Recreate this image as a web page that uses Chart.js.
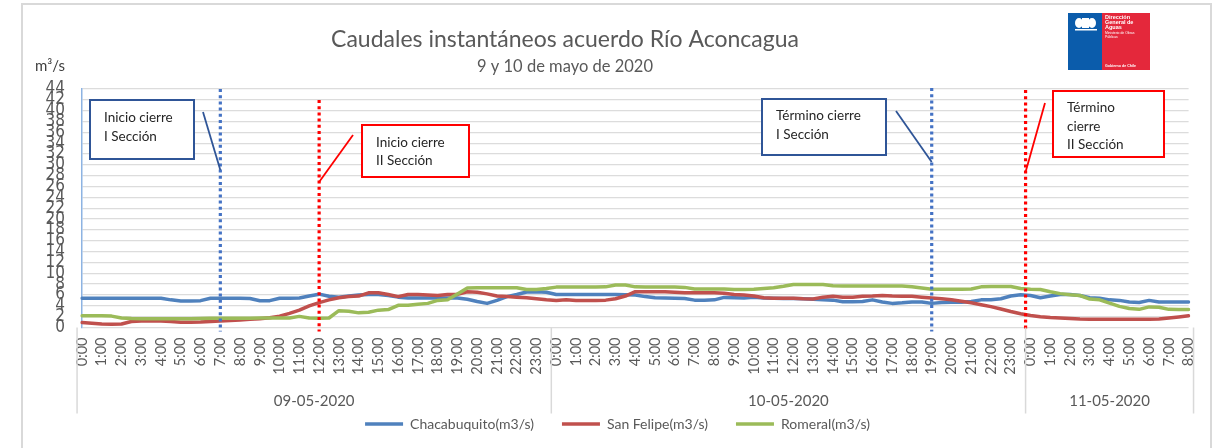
<!DOCTYPE html>
<html>
<head>
<meta charset="utf-8">
<script src="https://cdn.jsdelivr.net/npm/chart.js@4"></script>
<style>
  html, body { margin: 0; padding: 0; background: #fff; }
  #grafico { display: block; }
</style>
</head>
<body>
<canvas id="grafico" width="1216" height="448"></canvas>
<script>
const dias = ['09-05-2020', '10-05-2020', '11-05-2020']

// una categoria cada 30 minutos, del 09-05 0:00 al 11-05 8:00
const categorias = []
dias.forEach((dia, d) => {
  const ultimaHora = d === 2 ? 8 : 23
  for (let h = 0; h <= ultimaHora; h++) {
    categorias.push(h + ':00')
    if (!(d === 2 && h === 8)) categorias.push(h + ':30')
  }
})

const chacabuquito = [
  5.4, 5.4, 5.4, 5.4, 5.4, 5.4, 5.4, 5.4, 5.4, 5.1, 4.9, 4.9, 4.95, 5.4, 5.4, 5.4, 5.4, 5.35, 4.95, 4.95,
  5.4, 5.4, 5.45, 5.8, 6.15, 5.75, 5.6, 5.8, 6.0, 6.1, 6.1, 5.9, 5.6, 5.45, 5.45, 5.45, 5.45, 5.45, 5.45, 5.2,
  4.8, 4.45, 5.0, 5.7, 6.1, 6.55, 6.6, 6.5,
  6.1, 6.1, 6.1, 6.1, 6.1, 6.1, 6.1, 6.05, 6.0, 5.7, 5.5, 5.45, 5.4, 5.35, 5.05, 5.05, 5.1, 5.55, 5.5, 5.45,
  5.6, 5.45, 5.4, 5.35, 5.35, 5.3, 5.2, 5.1, 5.05, 4.75, 4.75, 4.8, 5.1, 4.7, 4.45, 4.55, 4.7, 4.7, 4.45, 4.6,
  4.65, 4.65, 4.8, 5.1, 5.1, 5.3, 5.8, 6.05,
  5.9, 5.5, 5.8, 6.1, 6.1, 5.9, 5.5, 5.4, 5.1, 5.0, 4.7, 4.6, 5.0, 4.7, 4.7, 4.7, 4.7
]

const sanFelipe = [
  0.9, 0.8, 0.65, 0.6, 0.65, 1.1, 1.2, 1.2, 1.2, 1.1, 0.95, 0.95, 1.0, 1.1, 1.2, 1.3, 1.4, 1.5, 1.6, 1.8,
  2.1, 2.6, 3.2, 4.0, 4.6, 5.1, 5.5, 5.7, 5.8, 6.4, 6.4, 6.1, 5.7, 6.1, 6.1, 6.0, 5.9, 6.1, 6.1, 6.6,
  6.5, 6.2, 5.8, 5.7, 5.6, 5.5, 5.3, 5.1,
  5.0, 5.1, 5.0, 5.0, 5.0, 5.05, 5.3, 5.8, 6.6, 6.6, 6.6, 6.6, 6.5, 6.4, 6.4, 6.4, 6.4, 6.3, 6.1, 6.0,
  5.8, 5.5, 5.4, 5.4, 5.4, 5.3, 5.25, 5.6, 5.75, 5.6, 5.6, 5.75, 5.8, 5.9, 5.8, 5.75, 5.75, 5.6, 5.45, 5.3,
  5.1, 4.85, 4.55, 4.2, 3.85, 3.4, 2.95, 2.55,
  2.2, 2.0, 1.85, 1.75, 1.65, 1.55, 1.5, 1.5, 1.5, 1.5, 1.5, 1.5, 1.5, 1.55, 1.75, 1.95, 2.15
]

const romeral = [
  2.15, 2.15, 2.15, 2.1, 1.75, 1.65, 1.6, 1.6, 1.6, 1.6, 1.6, 1.6, 1.65, 1.7, 1.7, 1.7, 1.7, 1.7, 1.75, 1.75,
  1.75, 1.75, 2.05, 1.75, 1.7, 1.75, 3.1, 3.0, 2.7, 2.8, 3.2, 3.3, 4.1, 4.1, 4.3, 4.45, 5.0, 5.1, 6.2, 7.3,
  7.35, 7.35, 7.35, 7.35, 7.35, 7.0, 7.0, 7.2,
  7.45, 7.45, 7.45, 7.45, 7.45, 7.5, 7.85, 7.85, 7.5, 7.45, 7.45, 7.45, 7.45, 7.4, 7.1, 7.1, 7.1, 7.1, 7.0, 7.0,
  7.05, 7.2, 7.35, 7.6, 7.95, 7.95, 7.95, 7.95, 7.7, 7.65, 7.65, 7.65, 7.65, 7.65, 7.65, 7.65, 7.5, 7.3, 7.05, 7.05,
  7.05, 7.05, 7.1, 7.5, 7.55, 7.55, 7.55, 7.2,
  7.05, 7.0, 6.6, 6.25, 6.05, 5.9, 5.25, 5.1, 4.5, 3.9, 3.5, 3.35, 3.8, 3.75, 3.35, 3.3, 3.3
]

// horas contadas desde el 09-05 0:00
const eventos = [
  { texto: ['Inicio cierre', 'I Sección'], hora: 7, seccion: 1 },
  { texto: ['Inicio cierre', 'II Sección'], hora: 12, seccion: 2 },
  { texto: ['Término cierre', 'I Sección'], hora: 43, seccion: 1 },
  { texto: ['Término', 'cierre', 'II Sección'], hora: 47.75, seccion: 2 }
]

const colores = { 1: '#4472C4', 2: '#FF0000' }
const bordesCaja = { 1: '#2F5597', 2: '#FF0000' }

// ubicacion de los recuadros de texto
const cajas = [
  { x: 90, y: 100, w: 104, h: 59, ty: [118, 137], desde: [203, 112], hasta: 170, arriba: 89 },
  { x: 362, y: 125, w: 107, h: 52, ty: [143, 161], desde: [353, 135], hasta: 182, arriba: 100 },
  { x: 762, y: 99, w: 124, h: 56, ty: [116, 135], desde: [896, 111], hasta: 162, arriba: 88 },
  { x: 1053, y: 91, w: 111, h: 66, ty: [108, 127, 145], desde: [1045, 103], hasta: 172, arriba: 90 }
]

function dibujaLogo(ctx) {
  ctx.fillStyle = '#0B5CAB'
  ctx.fillRect(1068, 13, 34, 57)
  ctx.fillStyle = '#E4283B'
  ctx.fillRect(1102, 13, 48, 57)

  // escudo simplificado
  ctx.fillStyle = '#fff'
  ctx.beginPath()
  ctx.ellipse(1079, 23, 4, 5, 0, 0, Math.PI * 2)
  ctx.ellipse(1092, 23, 4, 5, 0, 0, Math.PI * 2)
  ctx.fill()
  ctx.fillRect(1082, 18, 7, 10)
  ctx.fillRect(1075, 29, 22, 1.5)

  ctx.textAlign = 'left'
  ctx.textBaseline = 'middle'
  ctx.font = 'bold 5.5px "Liberation Sans"'
  ctx.fillText('Dirección', 1105, 17.5)
  ctx.fillText('General de', 1105, 22.5)
  ctx.fillText('Aguas', 1105, 27.5)
  ctx.font = '3.4px "Liberation Sans"'
  ctx.fillText('Ministerio de Obras', 1105, 33)
  ctx.fillText('Públicas', 1105, 37)
  ctx.font = 'bold 3.6px "Liberation Sans"'
  ctx.fillText('Gobierno de Chile', 1105, 66)
}

const decoracion = {
  id: 'decoracion',
  beforeDraw(chart) {
    const ctx = chart.ctx
    ctx.save()
    ctx.fillStyle = '#fff'
    ctx.fillRect(0, 0, chart.width, chart.height)
    ctx.strokeStyle = '#D9D9D9'
    ctx.lineWidth = 2
    ctx.strokeRect(22, 4, 1189, 470)

    ctx.fillStyle = '#595959'
    ctx.textAlign = 'center'
    ctx.textBaseline = 'middle'
    ctx.font = '23px Lato'
    ctx.fillText('Caudales instantáneos acuerdo Río Aconcagua', 565, 40)
    ctx.font = '16.5px Lato'
    ctx.fillText('9 y 10 de mayo de 2020', 565, 67)

    ctx.fillStyle = '#404040'
    ctx.textAlign = 'left'
    ctx.font = '15px Lato'
    ctx.fillText('m³/s', 35, 66)

    dibujaLogo(ctx)
    ctx.restore()
  },
  afterDatasetsDraw(chart) {
    const ctx = chart.ctx
    const x = chart.scales.x
    const abajo = chart.chartArea.bottom
    ctx.save()
    eventos.forEach((ev, i) => {
      const c = cajas[i]
      const px = x.getPixelForValue(ev.hora * 2)

      // linea vertical punteada
      ctx.strokeStyle = colores[ev.seccion]
      ctx.lineWidth = 3.2
      ctx.setLineDash([3, 3.2])
      ctx.beginPath()
      ctx.moveTo(px, c.arriba)
      ctx.lineTo(px, abajo + 4)
      ctx.stroke()
      ctx.setLineDash([])

      // conector
      ctx.strokeStyle = bordesCaja[ev.seccion]
      ctx.lineWidth = 1.8
      ctx.beginPath()
      ctx.moveTo(c.desde[0], c.desde[1])
      ctx.lineTo(px, c.hasta)
      ctx.stroke()

      // recuadro
      ctx.fillStyle = '#fff'
      ctx.fillRect(c.x, c.y, c.w, c.h)
      ctx.lineWidth = 2
      ctx.strokeRect(c.x, c.y, c.w, c.h)
      ctx.fillStyle = '#262626'
      ctx.font = '13.5px Lato'
      ctx.textAlign = 'left'
      ctx.textBaseline = 'middle'
      ev.texto.forEach((t, j) => ctx.fillText(t, c.x + 14, c.ty[j]))
    })
    ctx.restore()
  },
  afterDraw(chart) {
    const ctx = chart.ctx
    const x = chart.scales.x
    const abajo = chart.chartArea.bottom
    const ultimo = categorias.length - 1
    ctx.save()
    ctx.strokeStyle = '#D9D9D9'
    ctx.lineWidth = 1.5
    ctx.fillStyle = '#595959'
    ctx.font = '15px Lato'
    ctx.textAlign = 'center'
    ctx.textBaseline = 'middle'
    dias.forEach((dia, d) => {
      const ini = x.getPixelForValue(d * 48 - 0.5)
      const fin = x.getPixelForValue(Math.min((d + 1) * 48, ultimo + 1) - 0.5)
      ctx.beginPath()
      ctx.moveTo(ini, abajo)
      ctx.lineTo(ini, abajo + 86)
      ctx.stroke()
      if (d === dias.length - 1) {
        ctx.beginPath()
        ctx.moveTo(fin, abajo)
        ctx.lineTo(fin, abajo + 86)
        ctx.stroke()
      }
      ctx.fillText(dia, (ini + fin) / 2, 401)
    })
    ctx.restore()
  }
}

Chart.defaults.font.family = 'Lato'

const grafico = document.getElementById('grafico')
new Chart(grafico, {
  type: 'line',
  data: {
    labels: categorias,
    datasets: [
      {
        label: 'Chacabuquito(m3/s)',
        data: chacabuquito,
        borderColor: '#4F81BD',
        order: 3,
      },
      {
        label: 'San Felipe(m3/s)',
        data: sanFelipe,
        borderColor: '#C0504D',
        order: 2,
      },
      {
        label: 'Romeral(m3/s)',
        data: romeral,
        borderColor: '#9BBB59',
        order: 1,
      },
    ].map(ds => Object.assign(ds, {
      borderWidth: 3.5,
      pointRadius: 0,
      pointHoverRadius: 0,
      pointBorderWidth: 3.5,
      pointBorderColor: ds.borderColor,
      tension: 0,
      borderJoinStyle: 'round',
      borderCapStyle: 'round',
    })),
  },
  plugins: [decoracion],
  options: {
    responsive: false,
    animation: false,
    layout: { padding: { left: 37, right: 18, top: 89, bottom: 7 } },
    plugins: {
      title: { display: false },
      tooltip: { enabled: false },
      legend: {
        position: 'bottom',
        labels: {
          usePointStyle: true,
          pointStyle: 'line',
          pointStyleWidth: 38,
          padding: 28,
          color: '#595959',
          font: { size: 14 },
          sort: (a, b) => a.datasetIndex - b.datasetIndex,
        },
      },
    },
    scales: {
      x: {
        grid: { display: false, drawTicks: false },
        border: { display: false },
        ticks: {
          autoSkip: false,
          minRotation: 90,
          maxRotation: 90,
          padding: 10,
          color: '#595959',
          font: { size: 14.5 },
          callback: (valor, i) => categorias[i].endsWith(':00') ? categorias[i] : '',
        },
        afterFit: escala => { escala.height = 61.5 },
      },
      y: {
        min: 0,
        max: 44,
        ticks: {
          stepSize: 2,
          autoSkip: false,
          padding: 17,
          color: '#595959',
          font: { family: '"Liberation Sans Narrow", "DejaVu Sans Condensed", sans-serif', size: 17 },
        },
        grid: { color: '#DCDCDC', lineWidth: 1.3, drawTicks: false },
        border: { color: '#8DB3E2', width: 1.5 },
        afterFit: escala => { escala.width = 45 },
      },
    },
  },
})
</script>
</body>
</html>
